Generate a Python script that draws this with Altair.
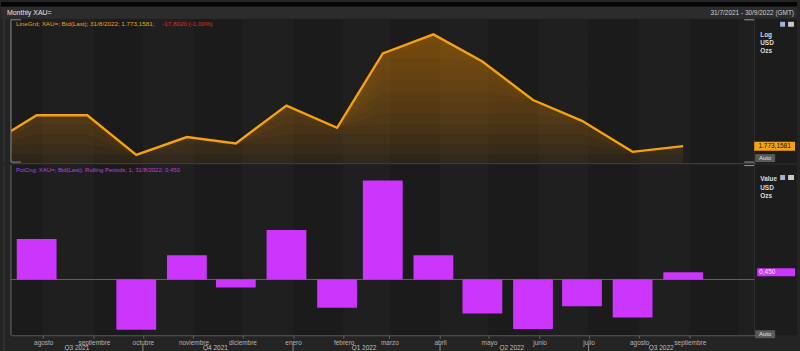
import altair as alt
import pandas as pd

# ------------------------------------------------------------------ data
price_dates = ["2021-06-30", "2021-07-31", "2021-08-31", "2021-09-30", "2021-10-31",
               "2021-11-30", "2021-12-31", "2022-01-31", "2022-02-28", "2022-03-31",
               "2022-04-30", "2022-05-31", "2022-06-30", "2022-07-31", "2022-08-31"]
prices = [1773.0, 1817.0, 1817.0, 1761.0, 1786.0, 1777.0, 1831.0, 1799.0, 1908.0,
          1937.0, 1896.0, 1839.0, 1809.0, 1765.2, 1773.1581]

pct_dates = ["2021-07-31", "2021-08-31", "2021-09-30", "2021-10-31", "2021-11-30",
             "2021-12-31", "2022-01-31", "2022-02-28", "2022-03-31", "2022-04-30",
             "2022-05-31", "2022-06-30", "2022-07-31", "2022-08-31"]
pct_change = [2.5, 0.0, -3.1, 1.5, -0.5, 3.05, -1.75, 6.1, 1.5, -2.1, -3.05, -1.65, -2.35, 0.45]

month_names = ["enero", "febrero", "marzo", "abril", "mayo", "junio", "julio", "agosto",
               "septiembre", "octubre", "noviembre", "diciembre"]
tick_months = [(2021, 8), (2021, 9), (2021, 10), (2021, 11), (2021, 12), (2022, 1), (2022, 2),
               (2022, 3), (2022, 4), (2022, 5), (2022, 6), (2022, 7), (2022, 8), (2022, 9)]
band_months = ["2021-07-01", "2021-08-01", "2021-09-01", "2021-10-01", "2021-11-01",
               "2021-12-01", "2022-01-01", "2022-02-01", "2022-03-01", "2022-04-01",
               "2022-05-01", "2022-06-01", "2022-07-01", "2022-08-01", "2022-09-01",
               "2022-10-01", "2022-11-01"]
quarter_names = ["Q3 2021", "Q4 2021", "Q1 2022", "Q2 2022", "Q3 2022"]
quarter_starts = ["2021-07-01", "2021-10-01", "2022-01-01", "2022-04-01", "2022-07-01"]
quarter_ends = ["2021-10-01", "2022-01-01", "2022-04-01", "2022-07-01", "2022-10-01"]

price_ticks = [1770, 1800, 1830, 1860, 1890, 1920, 1950]
pct_ticks = [-3, -2, -1, 0, 1, 2, 3, 4, 5, 6, 7]
# price levels used to build the fading fill under the line (styling only)
fade_levels = [1749.6, 1762, 1776, 1790, 1805, 1820, 1836, 1852, 1868, 1885, 1902, 1920]

title_text = "Monthly XAU="
range_text = "31/7/2021 - 30/9/2022 (GMT)"
red_change = "-17,8020 (-1,00%)"

# ------------------------------------------------------------------ helpers
FONT = "Liberation Sans"
W, H1, H2 = 747, 145, 171
DOM0 = pd.Timestamp("2021-07-15T06:00:00")
DOM1 = pd.Timestamp("2022-10-13T12:00:00")
OFF = 5  # offset of month grid / labels vs data points


def fmt_es(v, dec):
    s = f"{v:,.{dec}f}"
    return s.replace(",", "#").replace(".", ",").replace("#", ".")


def dt(ts):
    return alt.DateTime(year=ts.year, month=ts.month, date=ts.day,
                        hours=ts.hour, minutes=ts.minute, utc=True)


xscale = alt.Scale(type="utc", domain=[dt(DOM0), dt(DOM1)])
tick_vals = [alt.DateTime(year=y, month=m, date=1, utc=True) for y, m in tick_months]
month_expr = "[" + ",".join(f"'{m}'" for m in month_names) + "][utcmonth(datum.value)]"

one = pd.DataFrame({"k": [0]})


def text_layer(txt, x, y, color, size=6.5, align="left", weight="normal"):
    return alt.Chart(one).mark_text(text=txt, align=align, baseline="middle", font=FONT,
                                    fontSize=size, fontWeight=weight, color=color).encode(
        x=alt.value(x), y=alt.value(y))


def rect_layer(x1, x2, y1, y2, color, opacity=1.0):
    return alt.Chart(one).mark_rect(color=color, opacity=opacity).encode(
        x=alt.value(x1), x2=alt.value(x2), y=alt.value(y1), y2=alt.value(y2))


def rule_layer(x1, x2, y1, y2, color, width=1.0):
    return alt.Chart(one).mark_rule(color=color, strokeWidth=width).encode(
        x=alt.value(x1), x2=alt.value(x2), y=alt.value(y1), y2=alt.value(y2))


# ------------------------------------------------------------------ tables
price_df = pd.DataFrame({"date": price_dates, "price": prices})
pct_df = pd.DataFrame({"date": pct_dates, "pct": pct_change})
band_df = pd.DataFrame({"start": band_months[:-1], "end": band_months[1:],
                        "odd": [i % 2 for i in range(len(band_months) - 1)]})
last_price_df = pd.DataFrame({"price": [prices[-1]], "label": [fmt_es(prices[-1], 4)]})
last_pct_df = pd.DataFrame({"pct": [pct_change[-1]], "label": [fmt_es(pct_change[-1], 3)]})
zero_df = pd.DataFrame({"pct": [0.0]})

q_mid = []
for qs, qe in zip(quarter_starts, quarter_ends):
    a = max(pd.Timestamp(qs), DOM0)
    b = min(pd.Timestamp(qe), DOM1)
    q_mid.append((a + (b - a) / 2).strftime("%Y-%m-%dT%H:%M:%SZ"))
quarter_df = pd.DataFrame({"q": quarter_names, "mid": q_mid})
qsep_df = pd.DataFrame({"d": [q for q in quarter_starts if pd.Timestamp(q) > DOM0]})

# ------------------------------------------------------------------ top panel
top_xaxis = alt.Axis(values=tick_vals, labels=False, ticks=False, domain=False, grid=True,
                     gridColor="#2c2c2c", gridWidth=1, tickOffset=OFF, title=None)
top_yaxis = alt.Axis(orient="right", values=price_ticks, title=None,
                     labelExpr="(datum.value>=1800 && datum.value<=1890) ? "
                               "replace(format(datum.value, ','), ',', '.') : ''",
                     grid=True, gridColor="#2e2e2e", tickColor="#9a9a9a", tickSize=3,
                     domainColor="#9a9a9a", labelColor="#c8c8c8", labelFont=FONT,
                     labelFontSize=6.5, labelPadding=2)
yscale_top = alt.Scale(type="log", domain=[1749.6, 1961])


def XT(field):
    return alt.X(f"{field}:T", scale=xscale, axis=top_xaxis, title=None)


def YT(field):
    return alt.Y(f"{field}:Q", scale=yscale_top, axis=top_yaxis, title=None)


bands_top = alt.Chart(band_df).mark_rect(clip=True, xOffset=OFF, x2Offset=OFF).encode(
    x=XT("start"), x2="end:T",
    color=alt.Color("odd:N", scale=alt.Scale(range=["#1b1b1b", "#1f1f1f"]), legend=None))

# fading brown fill: overlapping translucent areas, each from the line down to a level
fade_layers = []
for i, lvl in enumerate(fade_levels):
    fade_layers.append(
        alt.Chart(price_df).transform_calculate(lo=f"min(datum.price, {lvl})")
        .mark_area(clip=True, color="#a86c0e", opacity=0.13 if i == 0 else 0.075)
        .encode(x=XT("date"), y=YT("price"), y2="lo:Q")
    )

line = alt.Chart(price_df).mark_line(clip=True, color="#f5a20c", strokeWidth=2.4).encode(
    x=XT("date"), y=YT("price"))

last_box = alt.Chart(last_price_df).mark_rule(color="#f2a30f", strokeWidth=9, strokeCap="butt").encode(
    y=YT("price"), x=alt.value(W), x2=alt.value(788))
last_txt = alt.Chart(last_price_df).mark_text(font=FONT, fontSize=6.5, color="#111111",
                                              align="center", baseline="middle").encode(
    y=YT("price"), x=alt.value(767.5), text="label:N")

top_layers = [
    rect_layer(-10, 790, -17, -12, "#050505"),
    rect_layer(-10, 790, -12, 0, "#2c2c2c"),
    rect_layer(W, 790, 0, H1, "#1c1c1c"),
    bands_top, *fade_layers, line,
    rule_layer(-7, -7, -1, H1 - 1, "#3a3a3a"),
    rule_layer(0, 0, 1, H1 - 1, "#8c8c8c"),
    rule_layer(0, 10, 1, 1, "#8c8c8c"),
    rule_layer(0, 10, H1 - 1, H1 - 1, "#8c8c8c"),
    rule_layer(737, W, 1, 1, "#9a9a9a"),
    rule_layer(737, W, H1 - 1, H1 - 1, "#9a9a9a"),
    text_layer(title_text, -4, -6, "#e6e6e6", size=7),
    text_layer(range_text, 787, -6, "#d0d0d0", size=6.5, align="right"),
    text_layer(f"LineGrd; XAU=; Bid(Last); 31/8/2022; {fmt_es(prices[-1], 4)};", 5, 5,
               "#e8a21a", size=6.3),
    text_layer(red_change, 152, 5, "#e02a2a", size=6.3),
    text_layer("Log", 753, 16, "#dcdcdc", size=6.5, weight="bold"),
    text_layer("USD", 753, 24, "#dcdcdc", size=6.5, weight="bold"),
    text_layer("Ozs", 753, 32, "#dcdcdc", size=6.5, weight="bold"),
    rect_layer(773, 778, 3, 8, "#9fb4d0"),
    rect_layer(781, 787, 3, 8, "#c8c8c8"),
    last_box, last_txt,
    rect_layer(748, 768, 136, 144, "#5a5a5a"),
    text_layer("Auto", 758, 140, "#e0e0e0", size=6, align="center"),
]
top = alt.layer(*top_layers).properties(width=W, height=H1)

# ------------------------------------------------------------------ bottom panel
bot_xaxis = alt.Axis(values=tick_vals, labelExpr=month_expr, tickOffset=OFF, grid=True,
                     gridColor="#2c2c2c", ticks=True, tickSize=3, tickColor="#666666",
                     domainColor="#555555", labelColor="#b4b4b4", labelFont=FONT,
                     labelFontSize=6.5, labelPadding=1, labelOverlap=False, labelFlush=False,
                     title=None)
bot_yaxis = alt.Axis(orient="right", values=pct_ticks, title=None,
                     labelExpr="datum.value <= 4 ? datum.label : ''",
                     grid=True, gridColor="#2a2a2a", tickColor="#9a9a9a", tickSize=3,
                     domainColor="#9a9a9a", labelColor="#c8c8c8", labelFont=FONT,
                     labelFontSize=6.5, labelPadding=2)
yscale_bot = alt.Scale(domain=[-3.44, 7.06], nice=False, zero=False)


def XB(field):
    return alt.X(f"{field}:T", scale=xscale, axis=bot_xaxis, title=None)


def YB(field):
    return alt.Y(f"{field}:Q", scale=yscale_bot, axis=bot_yaxis, title=None)


bands_bot = alt.Chart(band_df).mark_rect(clip=True, xOffset=OFF, x2Offset=OFF).encode(
    x=XB("start"), x2="end:T",
    color=alt.Color("odd:N", scale=alt.Scale(range=["#1b1b1b", "#1f1f1f"]), legend=None))

zero_line = alt.Chart(zero_df).mark_rule(color="#9a34cc", strokeWidth=1).encode(
    y=YB("pct"), x=alt.value(0), x2=alt.value(W))

# bars: thick rules centred exactly on the month-end dates
bars = alt.Chart(pct_df).mark_rule(clip=True, strokeWidth=40, strokeCap="butt",
                                   color="#cc35fb").encode(
    x=XB("date"), y=YB("pct"), y2=alt.datum(0))

pct_box = alt.Chart(last_pct_df).mark_rule(color="#cc35fb", strokeWidth=8, strokeCap="butt").encode(
    y=YB("pct"), x=alt.value(750), x2=alt.value(788))
pct_txt = alt.Chart(last_pct_df).mark_text(font=FONT, fontSize=6.5, color="#f4e6ff",
                                           align="left", baseline="middle").encode(
    y=YB("pct"), x=alt.value(752), text="label:N")

q_labels = alt.Chart(quarter_df).mark_text(font=FONT, fontSize=6.5, color="#c0c0c0",
                                           baseline="middle", xOffset=OFF / 2).encode(
    x=alt.X("mid:T", scale=xscale, axis=bot_xaxis, title=None), y=alt.value(H2 + 13),
    text="q:N")
q_seps = alt.Chart(qsep_df).mark_rule(color="#8a8a8a", xOffset=OFF).encode(
    x=alt.X("d:T", scale=xscale, axis=bot_xaxis, title=None),
    y=alt.value(H2 + 9), y2=alt.value(H2 + 16))

bot_layers = [
    rect_layer(-10, 790, 0, 189, "#000000", opacity=0.0),
    rect_layer(W, 790, 0, H2, "#1c1c1c"),
    bands_bot, zero_line, bars,
    rule_layer(-7, -7, 0, 188, "#3a3a3a"),
    rule_layer(0, 0, 0, H2, "#6a6a6a"),
    rule_layer(737, W, 0.5, 0.5, "#9a9a9a"),
    text_layer("PctCng; XAU=; Bid(Last); Rolling Periods; 1; 31/8/2022; "
               + fmt_es(pct_change[-1], 3), 5, 5, "#b444e6", size=6.0),
    text_layer("Value", 753, 14, "#dcdcdc", size=6.5, weight="bold"),
    text_layer("USD", 753, 23, "#dcdcdc", size=6.5, weight="bold"),
    text_layer("Ozs", 753, 31, "#dcdcdc", size=6.5, weight="bold"),
    rect_layer(773, 778, 10, 15, "#9fb4d0"),
    rect_layer(781, 787, 10, 15, "#c8c8c8"),
    pct_box, pct_txt,
    rect_layer(748, 768, 166, 174, "#5a5a5a"),
    text_layer("Auto", 758, 170, "#e0e0e0", size=6, align="center"),
    q_labels, q_seps,
]
bottom = alt.layer(*bot_layers).properties(width=W, height=H2)

chart = alt.vconcat(top, bottom, spacing=0).resolve_scale(x="independent").properties(
    padding=0, background="#242424"
).configure_view(fill="#1c1c1c", stroke="#3c3c3c")

chart.save("out.html", embed_options={"renderer": "svg", "actions": False})
